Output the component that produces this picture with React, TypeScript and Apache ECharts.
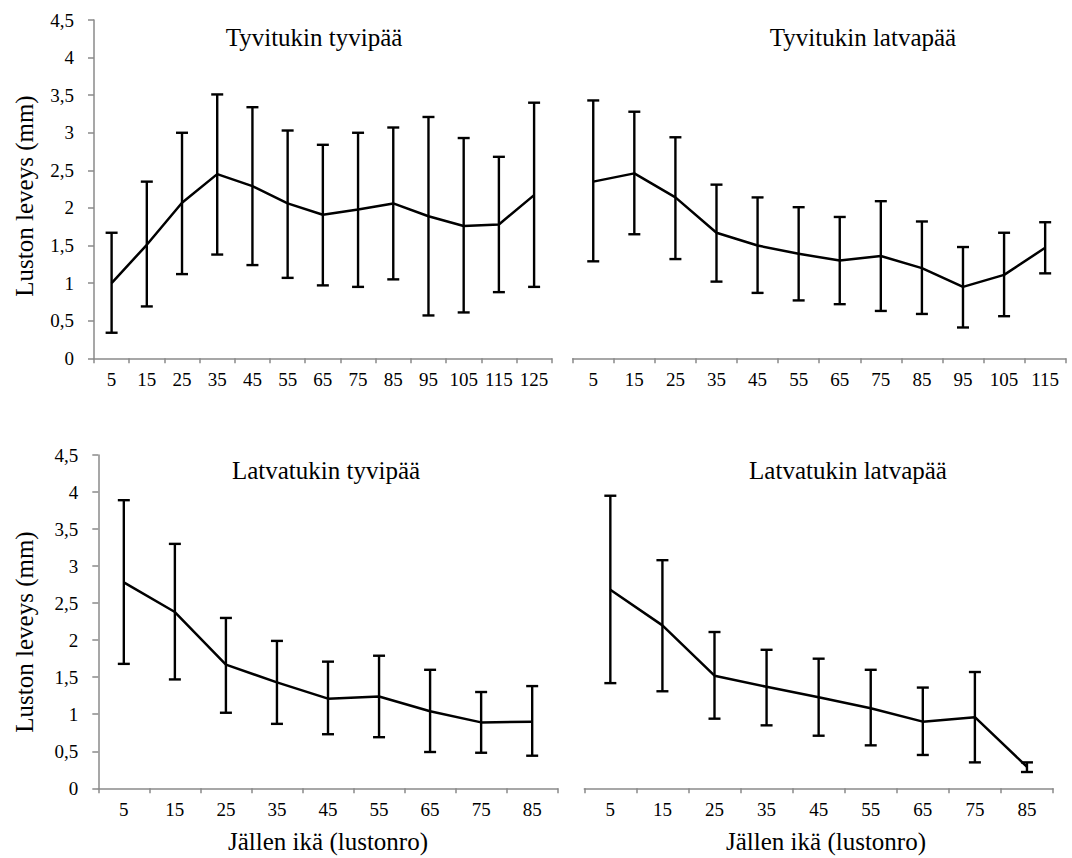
import React, { useEffect, useRef } from "react";
import * as echarts from "echarts";

// ---- Data ----
const cats1 = ["5", "15", "25", "35", "45", "55", "65", "75", "85", "95", "105", "115", "125"];
const mean1 = [1.0, 1.51, 2.07, 2.45, 2.29, 2.06, 1.91, 1.98, 2.06, 1.89, 1.76, 1.78, 2.17];
const upper1 = [1.67, 2.35, 3.0, 3.51, 3.34, 3.03, 2.84, 3.0, 3.07, 3.21, 2.93, 2.68, 3.4];
const lower1 = [0.34, 0.69, 1.12, 1.38, 1.24, 1.07, 0.97, 0.95, 1.05, 0.57, 0.61, 0.88, 0.95];

const cats2 = ["5", "15", "25", "35", "45", "55", "65", "75", "85", "95", "105", "115"];
const mean2 = [2.35, 2.46, 2.14, 1.67, 1.5, 1.39, 1.3, 1.36, 1.2, 0.95, 1.11, 1.47];
const upper2 = [3.43, 3.28, 2.94, 2.31, 2.14, 2.01, 1.88, 2.09, 1.82, 1.48, 1.67, 1.81];
const lower2 = [1.29, 1.65, 1.32, 1.02, 0.87, 0.77, 0.72, 0.63, 0.59, 0.41, 0.56, 1.13];

const cats3 = ["5", "15", "25", "35", "45", "55", "65", "75", "85"];
const mean3 = [2.78, 2.38, 1.67, 1.43, 1.21, 1.24, 1.04, 0.89, 0.9];
const upper3 = [3.89, 3.3, 2.3, 1.99, 1.71, 1.79, 1.6, 1.3, 1.38];
const lower3 = [1.68, 1.47, 1.02, 0.87, 0.73, 0.69, 0.49, 0.48, 0.44];

const cats4 = ["5", "15", "25", "35", "45", "55", "65", "75", "85"];
const mean4 = [2.68, 2.2, 1.52, 1.37, 1.23, 1.08, 0.9, 0.96, 0.29];
const upper4 = [3.95, 3.08, 2.11, 1.87, 1.75, 1.6, 1.36, 1.57, 0.35];
const lower4 = [1.42, 1.31, 0.94, 0.85, 0.71, 0.58, 0.45, 0.35, 0.22];

const titles = ["Tyvitukin tyvipää", "Tyvitukin latvapää", "Latvatukin tyvipää", "Latvatukin latvapää"];
const yName = "Luston leveys (mm)";
const xName = "Jällen ikä (lustonro)";

const FONT = "'Liberation Serif', 'Times New Roman', serif";
const AXIS_COLOR = "#8a8a8a";

export default function App() {
  const ref = useRef<HTMLDivElement>(null);

  useEffect(() => {
    if (!ref.current) return;
    const chart = echarts.init(ref.current, null, { renderer: "svg" });

    const panels = [
      { cats: cats1, mean: mean1, up: upper1, lo: lower1, grid: { left: 94, top: 20, width: 457.7, height: 338.3 }, showY: true },
      { cats: cats2, mean: mean2, up: upper2, lo: lower2, grid: { left: 572.7, top: 20, width: 493, height: 338.3 }, showY: false },
      { cats: cats3, mean: mean3, up: upper3, lo: lower3, grid: { left: 98.3, top: 455, width: 459.4, height: 333.3 }, showY: true },
      { cats: cats4, mean: mean4, up: upper4, lo: lower4, grid: { left: 584.3, top: 455, width: 468.7, height: 333.3 }, showY: false },
    ];

    const grids: any[] = [];
    const xAxes: any[] = [];
    const yAxes: any[] = [];
    const series: any[] = [];

    panels.forEach((p, i) => {
      grids.push({ ...p.grid, containLabel: false });
      xAxes.push({
        type: "category",
        gridIndex: i,
        data: p.cats,
        boundaryGap: true,
        axisLine: { show: true, lineStyle: { color: AXIS_COLOR, width: 1.5 } },
        axisTick: { show: true, length: 5, lineStyle: { color: AXIS_COLOR, width: 1.5 } },
        axisLabel: { color: "#000", fontFamily: FONT, fontSize: 19, margin: 12, interval: 0 },
        splitLine: { show: false },
      });
      yAxes.push({
        type: "value",
        gridIndex: i,
        min: 0,
        max: 4.5,
        interval: 0.5,
        show: p.showY,
        axisLine: { show: true, lineStyle: { color: AXIS_COLOR, width: 1.5 } },
        axisTick: { show: true, length: 6, lineStyle: { color: AXIS_COLOR, width: 1.5 } },
        axisLabel: {
          color: "#000",
          fontFamily: FONT,
          fontSize: 19,
          margin: 20,
          formatter: (v: number) => String(v).replace(".", ","),
        },
        splitLine: { show: false },
      });
      series.push({
        type: "line",
        xAxisIndex: i,
        yAxisIndex: i,
        data: p.mean,
        symbol: "none",
        lineStyle: { color: "#000", width: 2.5 },
        z: 3,
      });
      series.push({
        type: "custom",
        xAxisIndex: i,
        yAxisIndex: i,
        data: p.cats.map((_, k) => [k, p.lo[k], p.up[k]]),
        encode: { x: 0, y: [1, 2] },
        z: 4,
        renderItem: (params: any, api: any) => {
          const x = api.value(0);
          const lo = api.coord([x, api.value(1)]);
          const hi = api.coord([x, api.value(2)]);
          const hw = 6;
          const st = { stroke: "#000", lineWidth: 2.4 };
          return {
            type: "group",
            children: [
              { type: "line", shape: { x1: lo[0], y1: lo[1], x2: hi[0], y2: hi[1] }, style: st },
              { type: "line", shape: { x1: hi[0] - hw, y1: hi[1], x2: hi[0] + hw, y2: hi[1] }, style: st },
              { type: "line", shape: { x1: lo[0] - hw, y1: lo[1], x2: lo[0] + hw, y2: lo[1] }, style: st },
            ],
          };
        },
      });
    });

    const textStyle = (size: number) => ({ fill: "#000", font: `${size}px ${FONT}`, align: "center", verticalAlign: "middle" });

    const graphics: any[] = [
      { type: "text", x: 314, y: 37, style: { text: titles[0], ...textStyle(25) } },
      { type: "text", x: 863, y: 37, style: { text: titles[1], ...textStyle(25) } },
      { type: "text", x: 326, y: 470, style: { text: titles[2], ...textStyle(25) } },
      { type: "text", x: 848, y: 470, style: { text: titles[3], ...textStyle(25) } },
      { type: "text", x: 24, y: 196, rotation: Math.PI / 2, style: { text: yName, ...textStyle(25) } },
      { type: "text", x: 24, y: 632, rotation: Math.PI / 2, style: { text: yName, ...textStyle(25) } },
      { type: "text", x: 328, y: 841, style: { text: xName, ...textStyle(25) } },
      { type: "text", x: 826, y: 841, style: { text: xName, ...textStyle(25) } },
    ];

    chart.setOption({
      animation: false,
      backgroundColor: "#fff",
      textStyle: { fontFamily: FONT },
      grid: grids,
      xAxis: xAxes,
      yAxis: yAxes,
      series,
      graphic: graphics,
    });

    return () => chart.dispose();
  }, []);

  return <div ref={ref} style={{ position: "absolute", left: 0, top: 0, width: 1072, height: 858 }} />;
}
